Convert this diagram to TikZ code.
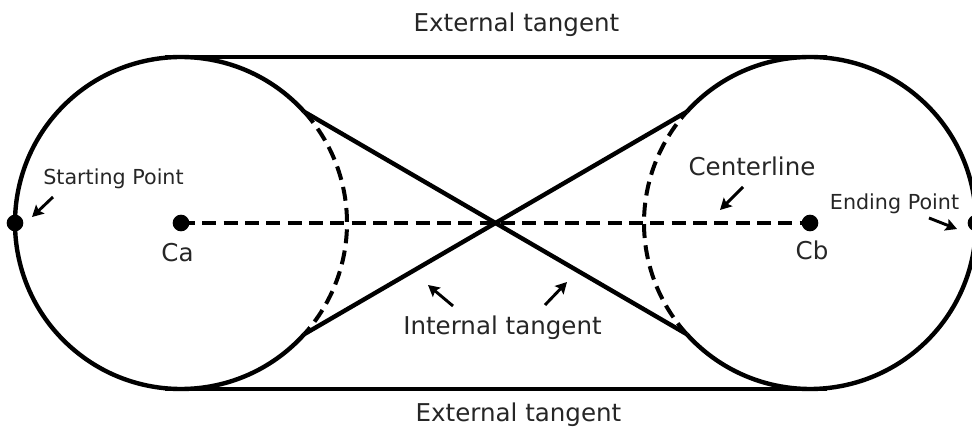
\documentclass[tikz,border=0pt]{standalone}
\usepackage{fontspec}
\setmainfont{DejaVu Sans}
\usetikzlibrary{arrows.meta}
\tikzset{
  belt/.style={line width=3.3pt},
  hidden/.style={line width=3pt,dash pattern=on 10.5pt off 5.5pt},
  ptr/.style={line width=2.2pt,-{Stealth[length=8.5pt,width=9pt,inset=1.5pt]}},
  dot/.style={circle,fill,inner sep=0pt,minimum size=12.5pt},
  lbl/.style={text=black!85,font=\fontsize{18.4}{22}\selectfont,inner sep=0pt,anchor=base},
  smalllbl/.style={lbl,font=\fontsize{15.5}{18}\selectfont}
}
\begin{document}
\begin{tikzpicture}[x=0.75pt,y=0.75pt,yscale=-1,xscale=1]
\clip (0,0) rectangle (972,427);
% pulley centres
\coordinate (Ca) at (181,223);
\coordinate (Cb) at (810,223);
% tangent end points
\coordinate (ta) at (165,57);
\coordinate (tb) at (827,57);
\coordinate (ba) at (165,389);
\coordinate (bb) at (827,389);
\coordinate (ia) at (304.4,111.9);
\coordinate (ib) at (686.6,334.1);
\coordinate (ic) at (304.4,334.1);
\coordinate (id) at (686.6,111.9);
% circles
\draw [belt] (Ca) ++(42:124.5pt) arc [start angle=42, end angle=318, radius=124.5pt];
\draw [hidden] (Ca) ++(-42:124.5pt) arc [start angle=-42, end angle=42, radius=124.5pt];
\draw [belt] (Cb) ++(-138:124.5pt) arc [start angle=-138, end angle=138, radius=124.5pt];
\draw [hidden] (Cb) ++(138:124.5pt) arc [start angle=138, end angle=222, radius=124.5pt];
% tangents
\draw [belt] (ta) -- (tb);
\draw [belt] (ba) -- (bb);
\draw [belt] (ia) -- (ib);
\draw [belt] (ic) -- (id);
\draw [hidden] (Ca) -- (Cb);
% points
\node [dot] (ca) at (Ca) {};
\node [dot] (cb) at (Cb) {};
\node [dot] (start) at (15,223) {};
\node [dot] (end) at (976,223) {};
% labels
\node [lbl] (exttop) at (516.5,32) {External tangent};
\node [lbl] (extbot) at (518.5,421.5) {External tangent};
\node [lbl] (intlbl) at (502.5,335) {Internal tangent};
\node [lbl] (cllbl) at (752,176) {Centerline};
\node [lbl] (calbl) at (177.5,261.5) {Ca};
\node [lbl] (cblbl) at (812,260) {Cb};
\node [smalllbl] (stlbl) at (113.5,185) {Starting Point};
\node [smalllbl] (enlbl) at (894.5,210) {Ending Point};
% pointers
\coordinate (s1) at (53,197);
\coordinate (s2) at (32,217);
\coordinate (c1) at (743,187);
\coordinate (c2) at (720,210);
\coordinate (e1) at (929,218);
\coordinate (e2) at (957,229);
\coordinate (i1) at (453,306);
\coordinate (i2) at (428,285);
\coordinate (j1) at (545,305);
\coordinate (j2) at (567,282);
\draw [ptr] (s1) -- (s2);
\draw [ptr] (c1) -- (c2);
\draw [ptr] (e1) -- (e2);
\draw [ptr] (i1) -- (i2);
\draw [ptr] (j1) -- (j2);
\end{tikzpicture}
\end{document}
